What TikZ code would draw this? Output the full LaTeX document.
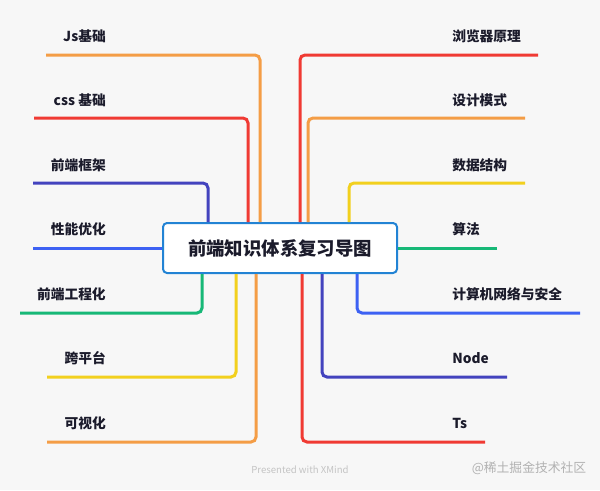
\documentclass[tikz,border=0pt]{standalone}
\usepackage{fontspec}
\setmainfont{Noto Sans CJK SC}
\usetikzlibrary{positioning}

\definecolor{paper}{HTML}{F7F7F7}
\definecolor{ink}{HTML}{1B1B2B}
\definecolor{boxblue}{HTML}{2283D4}
\definecolor{brOrange}{HTML}{F49D46}
\definecolor{brRed}{HTML}{F03A33}
\definecolor{brIndigo}{HTML}{4343BE}
\definecolor{brBlue}{HTML}{3D61F3}
\definecolor{brGreen}{HTML}{17B877}
\definecolor{brYellow}{HTML}{F2D01E}

\tikzset{
  branch/.style={line width=2.25pt, rounded corners=3.75pt},
  topic/.style={font=\bfseries\fontsize{10.3pt}{12pt}\selectfont, text=ink, inner sep=0pt},
  ltopic/.style={topic, anchor=east},
  rtopic/.style={topic, anchor=west},
  rootbox/.style={draw=boxblue, line width=1.5pt, fill=white, rounded corners=3pt,
    minimum width=175.5pt, minimum height=37.5pt, inner sep=0pt,
    font=\bfseries\fontsize{13.8pt}{16pt}\selectfont, text=ink},
  wmark/.style={inner sep=0pt}
}

\begin{document}
\begin{tikzpicture}[x=0.75pt, y=-0.75pt]
  \fill[paper] (0,0) rectangle (600,490);
  \useasboundingbox (0,0) rectangle (600,490);

  \node[rootbox] (root) at (280,248) {前端知识体系复习导图};

  % left side
  \coordinate (l1) at (46,55);
  \coordinate (l2) at (34,118);
  \coordinate (l3) at (33,183);
  \coordinate (l4) at (33,248);
  \coordinate (l5) at (20,313);
  \coordinate (l6) at (47,377);
  \coordinate (l7) at (47,442);

  \node[ltopic] (js)    at (106,36)  {Js基础};
  \node[ltopic] (css)   at (106,100) {css 基础};
  \node[ltopic] (frame) at (106,165) {前端框架};
  \node[ltopic] (perf)  at (106,229) {性能优化};
  \node[ltopic] (eng)   at (106,294) {前端工程化};
  \node[ltopic] (cross) at (106,358) {跨平台};
  \node[ltopic] (vis)   at (106,423) {可视化};

  \draw[branch, brOrange] (l1) -| (root.north -| 260,0);
  \draw[branch, brRed]    (l2) -| (root.north -| 248,0);
  \draw[branch, brIndigo] (l3) -| (root.north -| 208,0);
  \draw[branch, brBlue]   (l4) -- (root.west);
  \draw[branch, brGreen]  (l5) -| (root.south -| 202,0);
  \draw[branch, brYellow] (l6) -| (root.south -| 236,0);
  \draw[branch, brOrange] (l7) -| (root.south -| 256,0);

  % right side
  \coordinate (r1) at (538,55);
  \coordinate (r2) at (525,118);
  \coordinate (r3) at (525,183);
  \coordinate (r4) at (497,248);
  \coordinate (r5) at (580,313);
  \coordinate (r6) at (507,377);
  \coordinate (r7) at (485,442);

  \node[rtopic] (browser) at (452,36)  {浏览器原理};
  \node[rtopic] (design)  at (452,100) {设计模式};
  \node[rtopic] (data)    at (452,165) {数据结构};
  \node[rtopic] (algo)    at (452,229) {算法};
  \node[rtopic] (net)     at (452,294) {计算机网络与安全};
  \node[rtopic] (nodejs)  at (452,358) {Node};
  \node[rtopic] (ts)      at (452,423) {Ts};

  \draw[branch, brRed]    (r1) -| (root.north -| 300,0);
  \draw[branch, brOrange] (r2) -| (root.north -| 308,0);
  \draw[branch, brYellow] (r3) -| (root.north -| 349,0);
  \draw[branch, brGreen]  (r4) -- (root.east);
  \draw[branch, brBlue]   (r5) -| (root.south -| 357,0);
  \draw[branch, brIndigo] (r6) -| (root.south -| 322,0);
  \draw[branch, brRed]    (r7) -| (root.south -| 302,0);

  \node[wmark, text=black!23, font=\fontsize{7.2pt}{9pt}\selectfont] (xmind) at (300,470) {Presented with XMind};
  \node[wmark, text=black!30, font=\fontsize{9.6pt}{11pt}\selectfont] (juejin) at (529,468) {@稀土掘金技术社区};
\end{tikzpicture}
\end{document}
